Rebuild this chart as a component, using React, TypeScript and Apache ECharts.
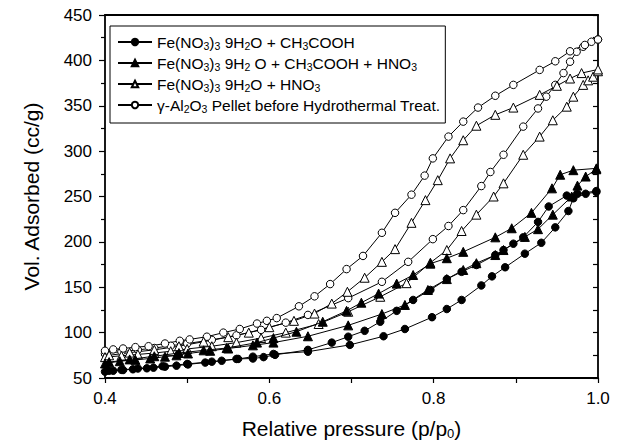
import React, { useEffect, useRef } from 'react';
import * as echarts from 'echarts';

// ---- data: [relative pressure, volume adsorbed] ----
const acetic_ads = [
  [0.400, 57], [0.410, 58], [0.422, 58.8], [0.434, 59.6], [0.451, 60.7], [0.459, 61.4], [0.473, 62.5],
  [0.487, 63.6], [0.501, 65], [0.522, 67], [0.542, 69], [0.562, 71], [0.580, 73.5], [0.605, 76.5],
  [0.647, 79], [0.698, 86.5], [0.739, 96], [0.765, 104], [0.798, 117], [0.816, 126], [0.834, 136],
  [0.858, 152], [0.871, 162], [0.887, 172], [0.911, 187], [0.931, 199], [0.948, 216], [0.964, 234],
  [0.970, 248], [0.985, 253], [0.998, 255],
];
const acetic_des = [
  [0.998, 256], [0.975, 253], [0.962, 251], [0.940, 239], [0.927, 222], [0.909, 205], [0.897, 198],
  [0.885, 191], [0.875, 185.5], [0.852, 174.5], [0.834, 167], [0.816, 159], [0.796, 147], [0.775, 136],
  [0.755, 124], [0.735, 112], [0.716, 102], [0.696, 95.5], [0.676, 89], [0.647, 81], [0.607, 75.5],
  [0.593, 73], [0.580, 71.5], [0.560, 71], [0.530, 68], [0.500, 65.5], [0.470, 63], [0.440, 60.5],
  [0.420, 59], [0.405, 58],
];
const aceticNitric_ads = [
  [0.400, 66], [0.418, 68.5], [0.437, 70], [0.455, 71.5], [0.473, 73.5], [0.487, 75], [0.501, 77],
  [0.528, 80], [0.550, 82.5], [0.580, 86], [0.605, 89], [0.647, 96], [0.696, 108], [0.737, 120.5],
  [0.765, 130.5], [0.793, 147], [0.816, 159], [0.836, 169], [0.852, 176.5], [0.875, 185.5], [0.885, 191],
  [0.911, 205.5], [0.927, 214], [0.945, 230], [0.968, 250], [0.975, 262], [0.985, 272], [0.998, 280],
];
const aceticNitric_des = [
  [0.998, 281], [0.970, 279], [0.954, 274], [0.944, 259], [0.919, 232], [0.895, 215], [0.875, 205],
  [0.836, 189], [0.816, 182], [0.796, 176], [0.775, 163.5], [0.755, 154], [0.733, 143], [0.712, 133],
  [0.694, 124], [0.665, 112], [0.633, 101], [0.605, 94], [0.585, 89], [0.548, 83], [0.520, 80.5],
  [0.490, 77.5], [0.460, 74], [0.430, 70.5], [0.405, 67.5],
];
const nitric_ads = [
  [0.400, 73], [0.420, 74.5], [0.440, 76], [0.460, 77.5], [0.480, 79.5], [0.500, 82], [0.530, 85],
  [0.560, 89], [0.590, 94], [0.620, 100], [0.660, 109.5], [0.696, 123], [0.735, 139.5], [0.767, 154.5],
  [0.796, 177], [0.816, 191], [0.834, 212], [0.852, 230], [0.873, 250], [0.885, 264.5], [0.909, 296],
  [0.929, 316], [0.945, 334], [0.962, 349], [0.970, 360], [0.982, 373], [0.988, 378], [0.994, 382],
  [1.000, 388],
];
const nitric_des = [
  [1.000, 390], [0.980, 386], [0.966, 380], [0.950, 372], [0.929, 362], [0.897, 348], [0.875, 340],
  [0.852, 328], [0.836, 312], [0.820, 292], [0.805, 268], [0.790, 246], [0.773, 221], [0.753, 192],
  [0.737, 178], [0.716, 160.5], [0.695, 145], [0.676, 132], [0.655, 121], [0.630, 113], [0.600, 106],
  [0.575, 100], [0.550, 95], [0.520, 90], [0.490, 85], [0.460, 81], [0.430, 78], [0.405, 75],
];
const alumina_ads = [
  [0.400, 77], [0.420, 79], [0.440, 81], [0.460, 83], [0.480, 85.5], [0.500, 88], [0.530, 92],
  [0.560, 97], [0.590, 103], [0.620, 111], [0.647, 119.5], [0.696, 138], [0.737, 156], [0.769, 178],
  [0.799, 203], [0.818, 217.5], [0.836, 235], [0.858, 261.5], [0.869, 277], [0.885, 296], [0.909, 327],
  [0.927, 347], [0.937, 360], [0.948, 373], [0.958, 386], [0.966, 398.5], [0.974, 409.5], [0.982, 415],
  [0.992, 420.5], [1.000, 423],
];
const alumina_des = [
  [1.000, 423], [0.984, 417], [0.966, 410], [0.948, 399], [0.929, 389.5], [0.897, 373], [0.875, 361],
  [0.854, 348], [0.836, 332.5], [0.818, 316], [0.799, 292], [0.789, 273], [0.773, 252], [0.753, 232],
  [0.737, 210], [0.714, 184.5], [0.694, 170], [0.674, 153.5], [0.655, 140], [0.636, 129], [0.609, 116],
  [0.597, 113], [0.585, 110], [0.564, 104], [0.544, 100], [0.524, 95.5], [0.503, 92.5], [0.491, 91],
  [0.473, 88], [0.453, 85], [0.437, 84], [0.422, 82.5], [0.410, 81.5], [0.400, 80],
];

const seriesNames = [
  'Fe(NO3)3 9H2O + CH3COOH',
  'Fe(NO3)3 9H2O + CH3COOH + HNO3',
  'Fe(NO3)3 9H2O + HNO3',
  'γ-Al2O3 Pellet before Hydrothermal Treat.',
];
const legendLabels = [
  'Fe(NO{s|3}){s|3} 9H{s|2}O + CH{s|3}COOH',
  'Fe(NO{s|3}){s|3} 9H{s|2} O + CH{s|3}COOH + HNO{s|3}',
  'Fe(NO{s|3}){s|3} 9H{s|2}O + HNO{s|3}',
  'γ-Al{s|2}O{s|3} Pellet before Hydrothermal Treat.',
];
const xAxisTitle = 'Relative pressure (p/p{s|0})';
const yAxisTitle = 'Vol. Adsorbed (cc/g)';

const FONT = '"Liberation Sans", Arial, sans-serif';

function mk(name: string, data: number[][], symbol: string, filled: boolean, size: number) {
  return {
    type: 'line',
    name,
    data,
    symbol,
    symbolSize: size,
    showSymbol: true,
    lineStyle: { color: '#000', width: 1 },
    itemStyle: { color: filled ? '#000' : '#fff', borderColor: '#000', borderWidth: 1 },
    emphasis: { disabled: true },
    z: filled ? 3 : 2,
  };
}

export default function App() {
  const ref = useRef<HTMLDivElement>(null);
  useEffect(() => {
    if (!ref.current) return;
    const chart = echarts.init(ref.current, undefined, { renderer: 'svg' });
    const axisLine = { show: true, onZero: false, lineStyle: { color: '#000', width: 1.8 } };
    const subRich = (fs: number, pad: number) => ({
      s: { fontSize: fs, padding: [pad, 0, 0, 0], fontFamily: FONT, color: '#000' },
    });
    chart.setOption({
      animation: false,
      backgroundColor: '#fff',
      grid: { left: 105, right: 27, top: 15, bottom: 67 },
      xAxis: [
        {
          type: 'value', min: 0.4, max: 1.0, interval: 0.1, position: 'bottom',
          axisLine,
          axisTick: { show: true, inside: false, length: 5, lineStyle: { color: '#000', width: 1.2 } },
          axisLabel: {
            margin: 12, fontSize: 17, color: '#000', fontFamily: FONT,
            formatter: (v: number) => (Math.round(v * 10) % 2 === 0 ? v.toFixed(1) : ''),
          },
          splitLine: { show: false },
          name: xAxisTitle, nameLocation: 'middle', nameGap: 38,
          nameTextStyle: { fontSize: 21, color: '#000', fontFamily: FONT, rich: subRich(13, 11) },
        },
        {
          type: 'value', min: 0.4, max: 1.0, position: 'top',
          axisLine, axisTick: { show: false }, axisLabel: { show: false }, splitLine: { show: false },
        },
      ],
      yAxis: [
        {
          type: 'value', min: 50, max: 450, interval: 50, position: 'left',
          axisLine,
          axisTick: { show: true, inside: false, length: 6, lineStyle: { color: '#000', width: 1.2 } },
          minorTick: { show: true, splitNumber: 2, length: 4, lineStyle: { color: '#000', width: 1.2 } },
          axisLabel: { margin: 13, fontSize: 17, color: '#000', fontFamily: FONT },
          splitLine: { show: false },
          name: yAxisTitle, nameLocation: 'middle', nameGap: 63, nameRotate: 90,
          nameTextStyle: { fontSize: 21, color: '#000', fontFamily: FONT },
        },
        {
          type: 'value', min: 50, max: 450, interval: 25, position: 'right',
          axisLine,
          axisTick: { show: true, inside: true, length: 5, lineStyle: { color: '#000', width: 1.2 } },
          axisLabel: { show: false }, splitLine: { show: false },
        },
      ],
      legend: {
        data: seriesNames,
        orient: 'vertical',
        left: 110, top: 26,
        padding: [8, 5, 9, 7],
        itemGap: 4,
        itemWidth: 34, itemHeight: 8,
        borderColor: '#000', borderWidth: 1, borderRadius: 0,
        backgroundColor: '#fff',
        selectedMode: false,
        textStyle: { fontSize: 15.5, color: '#000', fontFamily: FONT, rich: subRich(10.5, 7) },
        formatter: (n: string) => legendLabels[seriesNames.indexOf(n)],
      },
      series: [
        mk(seriesNames[3], alumina_ads, 'circle', false, 7.5),
        mk(seriesNames[3], alumina_des, 'circle', false, 7.5),
        mk(seriesNames[2], nitric_ads, 'triangle', false, 9),
        mk(seriesNames[2], nitric_des, 'triangle', false, 9),
        mk(seriesNames[1], aceticNitric_ads, 'triangle', true, 9),
        mk(seriesNames[1], aceticNitric_des, 'triangle', true, 9),
        mk(seriesNames[0], acetic_ads, 'circle', true, 7.5),
        mk(seriesNames[0], acetic_des, 'circle', true, 7.5),
      ],
    });
    return () => chart.dispose();
  }, []);
  return (
    <div
      ref={ref}
      style={{ position: 'fixed', left: 0, top: 0, width: 625, height: 445, background: '#fff' }}
    />
  );
}
